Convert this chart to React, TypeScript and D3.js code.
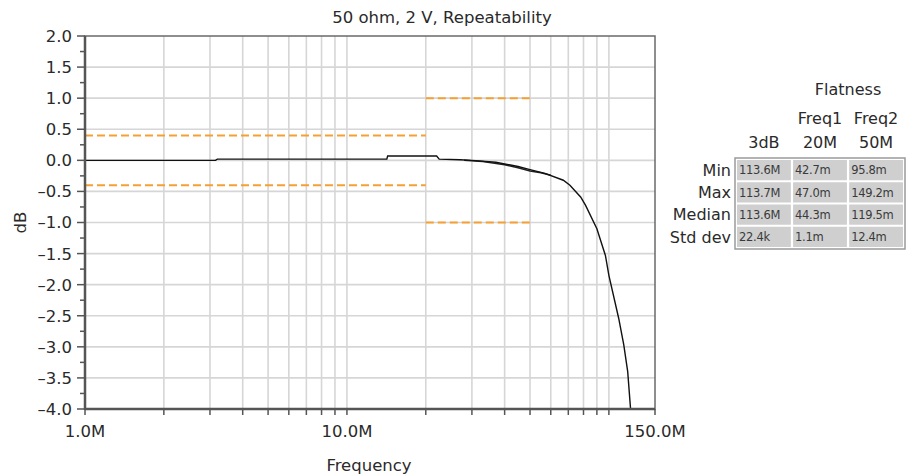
import React from 'react';
import * as d3 from 'd3';

// frequency response traces (Hz, dB)
const freqA = [1e6, 3.15e6, 3.2e6, 14.2e6, 14.3e6, 22e6, 22.5e6, 27e6, 30e6, 37e6, 45e6, 50e6, 57e6, 67e6, 71e6, 78e6, 81.4e6, 90e6, 97e6, 100e6, 109e6, 114e6, 118e6, 121e6];
const dbA = [0, 0, 0.02, 0.02, 0.07, 0.07, 0.02, 0.01, 0.0, -0.03, -0.1, -0.15, -0.21, -0.32, -0.4, -0.59, -0.72, -1.1, -1.53, -1.85, -2.54, -2.97, -3.4, -4.0];
const freqB = [28e6, 33e6, 40e6, 45e6, 50e6, 55e6, 60e6];
const dbB = [0.0, -0.02, -0.07, -0.12, -0.17, -0.2, -0.24];

// spec limit lines
const limitStart = [1e6, 1e6, 20e6, 20e6];
const limitEnd = [20e6, 20e6, 50e6, 50e6];
const limitDb = [0.4, -0.4, 1.0, -1.0];

const yTicks = [2.0, 1.5, 1.0, 0.5, 0.0, -0.5, -1.0, -1.5, -2.0, -2.5, -3.0, -3.5, -4.0];
const xLabels = [1e6, 10e6, 150e6];
const xLabelText = ['1.0M', '10.0M', '150.0M'];

// flatness table
const colTop = ['', 'Freq1', 'Freq2'];
const colHead = ['3dB', '20M', '50M'];
const rowLabels = ['Min', 'Max', 'Median', 'Std dev'];
const col3dB = ['113.6M', '113.7M', '113.6M', '22.4k'];
const colF1 = ['42.7m', '47.0m', '44.3m', '1.1m'];
const colF2 = ['95.8m', '149.2m', '119.5m', '12.4m'];

const W = 906, H = 476;
const plot = { left: 85, right: 655, top: 36, bottom: 409 };
const font = '"DejaVu Sans", Arial, Helvetica, sans-serif';
const ink = '#2a2a2a';
const orange = '#f6a033';

const App = () => {
    const x = d3.scaleLog().domain([1e6, 150e6]).range([plot.left, plot.right]);
    const y = d3.scaleLinear().domain([-4, 2]).range([plot.bottom, plot.top]);

    // grid at every 1..9 multiple inside the range
    const gridX: number[] = [];
    [1e6, 1e7, 1e8].forEach((dec) => {
        for (let k = 1; k < 10; k++) {
            const f = dec * k;
            if (f > 1e6 && f < 150e6) gridX.push(f);
        }
    });
    const gridY = d3.range(-3.5, 2, 0.5);
    const minorY = d3.range(-3.75, 2, 0.5);

    const line = d3.line<[number, number]>()
        .x((d) => x(d[0]))
        .y((d) => y(d[1]));
    const pathA = line(freqA.map((f, i) => [f, dbA[i]]));
    const pathB = line(freqB.map((f, i) => [f, dbB[i]]));

    // table layout
    const tLeft = 735, tRight = 905, tTop = 158, tBottom = 249;
    const rowY = d3.scaleBand<string>().domain(rowLabels).range([tTop + 2, tBottom - 2]).paddingInner(0.09);
    const colX = d3.scaleBand<number>().domain([0, 1, 2]).range([tLeft + 2, tRight - 2]).paddingInner(0.04);
    const cols = [col3dB, colF1, colF2];

    return (
        <svg width={W} height={H} style={{ position: 'absolute', left: 0, top: 0, background: '#fff' }}>
            {/* grid */}
            <g stroke="#d6d6d6" strokeWidth={1.6}>
                {gridX.map((f) => (
                    <line key={'gx' + f} x1={x(f)} x2={x(f)} y1={plot.top} y2={plot.bottom} />
                ))}
                {gridY.map((v) => (
                    <line key={'gy' + v} x1={plot.left} x2={plot.right} y1={y(v)} y2={y(v)} />
                ))}
            </g>

            {/* limit lines */}
            {limitDb.map((v, i) => (
                <line key={'lim' + i} x1={x(limitStart[i])} x2={x(limitEnd[i])} y1={y(v)} y2={y(v)}
                    stroke={orange} strokeWidth={2} strokeDasharray="8,4" />
            ))}

            {/* traces */}
            <path d={pathB!} fill="none" stroke="#222" strokeWidth={1.5} />
            <path d={pathA!} fill="none" stroke="#111" strokeWidth={1.4} />

            {/* frame */}
            <rect x={plot.left} y={plot.top} width={plot.right - plot.left} height={plot.bottom - plot.top}
                fill="none" stroke="#6a6a6a" strokeWidth={1.5} />
            <line x1={plot.left} x2={plot.left} y1={plot.top} y2={plot.bottom + 1} stroke="#555" strokeWidth={2.5} />
            <line x1={plot.left} x2={plot.right} y1={plot.bottom} y2={plot.bottom} stroke="#555" strokeWidth={2.5} />

            {/* ticks */}
            <g stroke="#555" strokeWidth={1.5}>
                {yTicks.map((v) => (
                    <line key={'yt' + v} x1={plot.left - 8} x2={plot.left} y1={y(v)} y2={y(v)} />
                ))}
                {minorY.map((v) => (
                    <line key={'ym' + v} x1={plot.left - 5} x2={plot.left} y1={y(v)} y2={y(v)} />
                ))}
                {[1e6, ...gridX, 150e6].map((f) => (
                    <line key={'xt' + f} x1={x(f)} x2={x(f)} y1={plot.bottom} y2={plot.bottom + 6} />
                ))}
            </g>
            <g fontFamily={font} fontSize={16.5} fill={ink}>
                {yTicks.map((v) => (
                    <text key={'yl' + v} x={plot.left - 13} y={y(v)} dy="0.36em" textAnchor="end">
                        {(v < 0 ? '\u2013' : '') + Math.abs(v).toFixed(1)}
                    </text>
                ))}
                {xLabels.map((f, i) => (
                    <text key={'xl' + f} x={x(f)} y={437} textAnchor="middle">{xLabelText[i]}</text>
                ))}
                <text x={369} y={471} textAnchor="middle">Frequency</text>
                <text transform={`translate(26,${(plot.top + plot.bottom) / 2}) rotate(-90)`} textAnchor="middle">dB</text>
                <text x={442} y={23} textAnchor="middle">50 ohm, 2 V, Repeatability</text>
            </g>

            {/* flatness table */}
            <g fontFamily={font} fontSize={16} fill={ink}>
                <text x={(colX(1)! + colX(2)! + colX.bandwidth()) / 2} y={95} textAnchor="middle">Flatness</text>
                {colTop.map((t, i) => (
                    <text key={'ct' + i} x={colX(i)! + colX.bandwidth() / 2} y={124} textAnchor="middle">{t}</text>
                ))}
                {colHead.map((t, i) => (
                    <text key={'ch' + i} x={colX(i)! + colX.bandwidth() / 2} y={148} textAnchor="middle">{t}</text>
                ))}
                {rowLabels.map((r) => (
                    <text key={'rl' + r} x={731} y={rowY(r)! + rowY.bandwidth() / 2} dy="0.36em" textAnchor="end">{r}</text>
                ))}
            </g>
            <rect x={tLeft} y={tTop} width={tRight - tLeft} height={tBottom - tTop} fill="#fff" stroke="#9a9a9a" strokeWidth={1.5} />
            {rowLabels.map((r, ri) => (
                <g key={'row' + r}>
                    {cols.map((c, ci) => (
                        <g key={'cell' + ci}>
                            <rect x={colX(ci)} y={rowY(r)} width={colX.bandwidth()} height={rowY.bandwidth()} fill="#cfcfcf" />
                            <text x={colX(ci)! + 2} y={rowY(r)! + rowY.bandwidth() / 2} dy="0.36em"
                                fontFamily='"DejaVu Sans", sans-serif' fontSize={11.5} letterSpacing={-0.3} fill="#3a3a3a">{c[ri]}</text>
                        </g>
                    ))}
                </g>
            ))}
        </svg>
    );
};

export default App;
